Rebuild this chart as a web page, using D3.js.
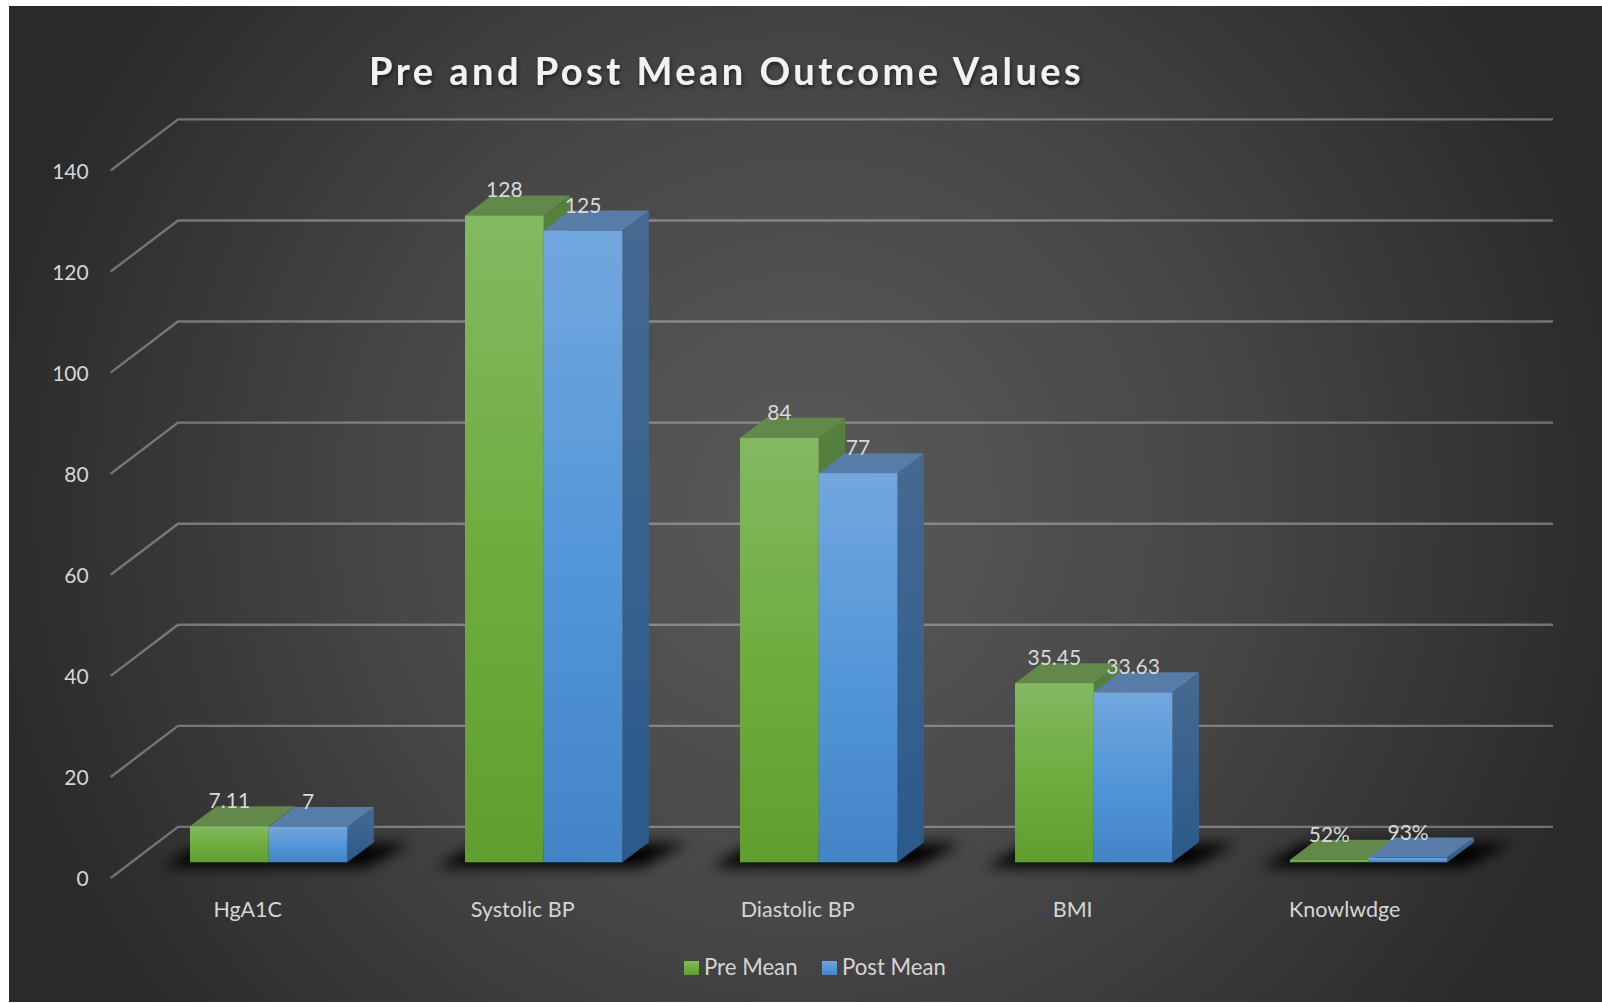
<!DOCTYPE html>
<html>
<head>
<meta charset="utf-8">
<script src="https://cdn.jsdelivr.net/npm/d3@7"></script>
<style>
  html, body { margin: 0; padding: 0; background: #fff; overflow: hidden; }
  text { font-family: Lato, "Open Sans", sans-serif; }
</style>
</head>
<body>
<div id="chart"></div>
<script>
// datos
var categorias = ["HgA1C", "Systolic BP", "Diastolic BP", "BMI", "Knowlwdge"];
var series = ["Pre Mean", "Post Mean"];
var preMean = [7.11, 128, 84, 35.45, 0.52];
var postMean = [7, 125, 77, 33.63, 0.93];
var preEtiquetas = ["7.11", "128", "84", "35.45", "52%"];
var postEtiquetas = ["7", "125", "77", "33.63", "93%"];
var ticksY = [0, 20, 40, 60, 80, 100, 120, 140];

var width = 1602, height = 1003;

var svg = d3.select("#chart").append("svg")
  .attr("width", width)
  .attr("height", height)
  .style("display", "block");

var defs = svg.append("defs");

// Degradados
function degradado(id, colores) {
  var g = defs.append("linearGradient").attr("id", id)
    .attr("x1", 0).attr("y1", 0).attr("x2", 0).attr("y2", 1);
  colores.forEach(function(c, i) {
    g.append("stop").attr("offset", i / (colores.length - 1)).attr("stop-color", c);
  });
}
degradado("frenteVerde", ["#83b962", "#6fad40", "#5f9e2f"]);
degradado("frenteAzul", ["#72a7de", "#5497d8", "#4284c6"]);
degradado("ladoVerde", ["#55803e", "#47722e"]);
degradado("ladoAzul", ["#466a92", "#2a5a8a"]);

var fondo = defs.append("radialGradient").attr("id", "fondo")
  .attr("gradientUnits", "userSpaceOnUse")
  .attr("cx", 805).attr("cy", 504).attr("r", 830);
fondo.append("stop").attr("offset", 0).attr("stop-color", "#5a5a5a");
fondo.append("stop").attr("offset", 0.5).attr("stop-color", "#474747");
fondo.append("stop").attr("offset", 1).attr("stop-color", "#2a2a2a");

defs.append("filter").attr("id", "difuso")
  .attr("x", "-30%").attr("y", "-100%").attr("width", "160%").attr("height", "300%")
  .append("feGaussianBlur").attr("stdDeviation", 7);

var sombraTitulo = defs.append("filter").attr("id", "sombraTitulo");
sombraTitulo.append("feDropShadow")
  .attr("dx", 1).attr("dy", 2).attr("stdDeviation", 2)
  .attr("flood-color", "#000").attr("flood-opacity", 0.6);

svg.append("rect")
  .attr("x", 9).attr("y", 6)
  .attr("width", width - 9).attr("height", height - 7)
  .attr("fill", "url(#fondo)");

// Escalas
var x = d3.scaleBand()
  .domain(categorias)
  .range([131.2, 1506.2])
  .paddingInner(0.4277)
  .paddingOuter(0.2138);

var xSerie = d3.scaleBand()
  .domain(series)
  .range([0, x.bandwidth()]);

var y = d3.scaleLinear().domain([0, 140]).range([878, 170.5]);

// desplazamientos de la perspectiva
var fondoDx = 67.3, fondoDy = -51.5; // pared del fondo
var baseDy = -15.7;                  // cara frontal de las barras
var profDx = 26.5, profDy = -20;     // profundidad de las barras

var ejeXIzq = 110.7, paredFin = 1553;

// Rejilla
var rejilla = svg.append("g").attr("fill", "none")
  .attr("stroke", "#d9d9d9").attr("stroke-opacity", 0.4).attr("stroke-width", 2.4);

rejilla.selectAll("path")
  .data(ticksY)
  .enter()
  .append("path")
  .attr("d", function(d) {
    return d3.line()([
      [ejeXIzq, y(d)],
      [ejeXIzq + fondoDx, y(d) + fondoDy + 0.4],
      [paredFin, y(d) + fondoDy + 0.4]
    ]);
  });

// Eje Y
var ejeY = svg.append("g")
  .attr("transform", "translate(" + (ejeXIzq - 22) + ",1)")
  .call(d3.axisLeft(y).tickValues(ticksY).tickSize(0).tickPadding(0));
ejeY.select(".domain").remove();
ejeY.selectAll("text")
  .attr("fill", "#d6d6d6")
  .style("font-size", "21px");

// Datos por grupo
var grupos = categorias.map(function(c, i) {
  return { categoria: c, valores: [
    { serie: series[0], valor: preMean[i], etiqueta: preEtiquetas[i], frente: "frenteVerde", lado: "ladoVerde", tapa: "#62894a" },
    { serie: series[1], valor: postMean[i], etiqueta: postEtiquetas[i], frente: "frenteAzul", lado: "ladoAzul", tapa: "#577ca8" }
  ]};
});

// Sombras en el suelo
svg.append("g").selectAll("path")
  .data(grupos)
  .enter()
  .append("path")
  .attr("filter", "url(#difuso)")
  .attr("fill", "#000")
  .attr("d", function(d) {
    var x0 = x(d.categoria), x1 = x0 + x.bandwidth(), b = y(0) + baseDy;
    return d3.line()([
      [x0 - 30, b + 5],
      [x0 + profDx - 12, b + profDy + 1],
      [x1 + profDx + 38, b + profDy + 1],
      [x1 + 18, b + 5]
    ]);
  });

// Barras
var grupoBarras = svg.append("g").selectAll("g")
  .data(grupos)
  .enter()
  .append("g")
  .attr("transform", function(d) { return "translate(" + x(d.categoria) + "," + baseDy + ")"; });

var barras = grupoBarras.selectAll("g")
  .data(function(d) { return d.valores; })
  .enter()
  .append("g");

// lado derecho
barras.append("path")
  .attr("fill", function(d) { return "url(#" + d.lado + ")"; })
  .attr("d", function(d) {
    var x1 = xSerie(d.serie) + xSerie.bandwidth();
    return d3.line()([
      [x1, y(d.valor)],
      [x1 + profDx, y(d.valor) + profDy],
      [x1 + profDx, y(0) + profDy],
      [x1, y(0)]
    ]) + "Z";
  });

// tapa
barras.append("path")
  .attr("fill", function(d) { return d.tapa; })
  .attr("d", function(d) {
    var x0 = xSerie(d.serie), x1 = x0 + xSerie.bandwidth();
    return d3.line()([
      [x0, y(d.valor)],
      [x0 + profDx, y(d.valor) + profDy],
      [x1 + profDx, y(d.valor) + profDy],
      [x1, y(d.valor)]
    ]) + "Z";
  });

// frente
barras.append("rect")
  .attr("x", function(d) { return xSerie(d.serie); })
  .attr("y", function(d) { return y(d.valor); })
  .attr("width", xSerie.bandwidth())
  .attr("height", function(d) { return y(0) - y(d.valor); })
  .attr("fill", function(d) { return "url(#" + d.frente + ")"; });

// Etiquetas de datos
barras.append("text")
  .attr("x", function(d) { return xSerie(d.serie) + xSerie.bandwidth() / 2; })
  .attr("y", function(d) { return y(d.valor) + profDy + 2; })
  .attr("text-anchor", "middle")
  .attr("fill", "#d9d9d9")
  .style("font-size", "21px")
  .text(function(d) { return d.etiqueta; });

// Etiquetas de categorias
svg.append("g").selectAll("text")
  .data(categorias)
  .enter()
  .append("text")
  .attr("x", function(d) { return x(d) + x.bandwidth() / 2 - (d === "Knowlwdge" ? 24 : 21); })
  .attr("y", 917)
  .attr("text-anchor", "middle")
  .attr("fill", "#d6d6d6")
  .style("font-size", "21.5px")
  .text(function(d) { return d; });

// Titulo
svg.append("text")
  .attr("x", 369)
  .attr("y", 85)
  .attr("fill", "#f2f2f2")
  .attr("filter", "url(#sombraTitulo)")
  .style("font-size", "38px")
  .style("font-weight", 700)
  .style("letter-spacing", "3.47px")
  .text("Pre and Post Mean Outcome Values");

// Leyenda
var leyenda = svg.append("g").selectAll("g")
  .data([
    { nombre: series[0], fill: "url(#frenteVerde)", x: 684 },
    { nombre: series[1], fill: "url(#frenteAzul)", x: 822 }
  ])
  .enter()
  .append("g")
  .attr("transform", function(d) { return "translate(" + d.x + ",961)"; });

leyenda.append("rect")
  .attr("width", 15)
  .attr("height", 14)
  .attr("fill", function(d) { return d.fill; });

leyenda.append("text")
  .attr("x", 20)
  .attr("y", 14)
  .attr("fill", "#d6d6d6")
  .style("font-size", "22.2px")
  .text(function(d) { return d.nombre; });
</script>
</body>
</html>
